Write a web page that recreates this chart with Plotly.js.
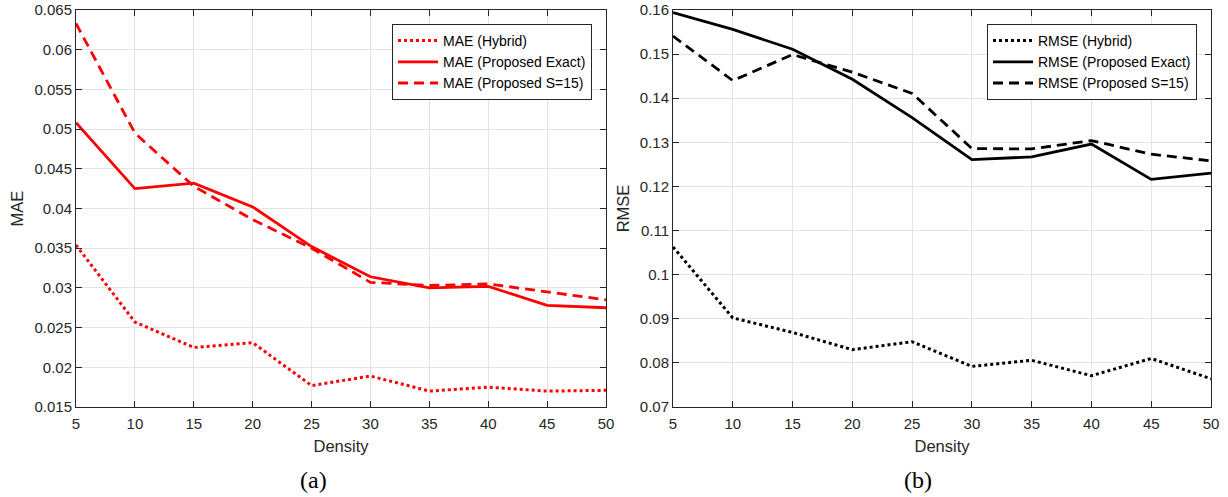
<!DOCTYPE html>
<html>
<head>
<meta charset="utf-8">
<script src="https://cdn.plot.ly/plotly-3.0.1.min.js"></script>
<style>html,body{margin:0;padding:0;background:#fff;}#chart{width:1228px;height:497px;}</style>
</head>
<body>
<div id="chart"></div>
<script>
// ---- data ----
const density = [5, 10, 15, 20, 25, 30, 35, 40, 45, 50];

const maeHybrid   = [0.0354, 0.0257, 0.0225, 0.0231, 0.0177, 0.0189, 0.0170, 0.0175, 0.0170, 0.0171];
const maeExact    = [0.0508, 0.0425, 0.0432, 0.0402, 0.0352, 0.0314, 0.0300, 0.0302, 0.0278, 0.0275];
const maeS15      = [0.0633, 0.0495, 0.0428, 0.0386, 0.0350, 0.0307, 0.0303, 0.0305, 0.0295, 0.0285];

const rmseHybrid  = [0.1063, 0.0902, 0.0869, 0.0830, 0.0848, 0.0792, 0.0806, 0.0771, 0.0810, 0.0764];
const rmseExact   = [0.1594, 0.1556, 0.1511, 0.1443, 0.1356, 0.1261, 0.1267, 0.1296, 0.1216, 0.1230];
const rmseS15     = [0.1541, 0.1440, 0.1499, 0.1459, 0.1411, 0.1286, 0.1285, 0.1304, 0.1273, 0.1258];

const xTicks      = [5, 10, 15, 20, 25, 30, 35, 40, 45, 50];
const maeTicks    = [0.015, 0.02, 0.025, 0.03, 0.035, 0.04, 0.045, 0.05, 0.055, 0.06, 0.065];
const maeTickText = ['0.015','0.02','0.025','0.03','0.035','0.04','0.045','0.05','0.055','0.06','0.065'];
const rmseTicks   = [0.07, 0.08, 0.09, 0.1, 0.11, 0.12, 0.13, 0.14, 0.15, 0.16];
const rmseTickText= ['0.07','0.08','0.09','0.1','0.11','0.12','0.13','0.14','0.15','0.16'];

const maeNames  = ['MAE (Hybrid)', 'MAE (Proposed Exact)', 'MAE (Proposed S=15)'];
const rmseNames = ['RMSE (Hybrid)', 'RMSE (Proposed Exact)', 'RMSE (Proposed S=15)'];
const captions  = ['(a)', '(b)'];

// ---- styles ----
const RED = '#ff0000', BLACK = '#000000';
const dotStyle  = {dash: 'dot', width: 3};
const solidStyle= {dash: 'solid', width: 2.8};
const dashStyle = {dash: '10px,6px', width: 2.8};

function tr(x, y, name, color, st, xa, ya, leg) {
  return {x: x, y: y, name: name, type: 'scatter', mode: 'lines',
    line: {color: color, width: st.width, dash: st.dash},
    xaxis: xa, yaxis: ya, legend: leg};
}

const data = [
  tr(density, maeHybrid, maeNames[0], RED, dotStyle, 'x', 'y', 'legend'),
  tr(density, maeExact,  maeNames[1], RED, solidStyle, 'x', 'y', 'legend'),
  tr(density, maeS15,    maeNames[2], RED, dashStyle, 'x', 'y', 'legend'),
  tr(density, rmseHybrid, rmseNames[0], BLACK, dotStyle, 'x2', 'y2', 'legend2'),
  tr(density, rmseExact,  rmseNames[1], BLACK, solidStyle, 'x2', 'y2', 'legend2'),
  tr(density, rmseS15,    rmseNames[2], BLACK, dashStyle, 'x2', 'y2', 'legend2')
];

const AX = '#262626';
const fontFam = '"Liberation Sans", Arial, Helvetica, sans-serif';
function xax(domain, anchor) {
  return {domain: domain, anchor: anchor, range: [5, 50], tickvals: xTicks,
    showline: true, mirror: 'ticks', linecolor: AX, linewidth: 1,
    ticks: 'inside', ticklen: 6, tickcolor: AX, tickwidth: 1, ticklabelstandoff: 3,
    showgrid: true, gridcolor: '#e3e3e3', gridwidth: 1, zeroline: false,
    tickfont: {size: 15, color: AX, family: fontFam},
    title: {text: 'Density', font: {size: 16.5, color: AX, family: fontFam}, standoff: 9},
    automargin: false, fixedrange: true};
}
function yax(domain, anchor, range, tv, tt, title) {
  return {domain: domain, anchor: anchor, range: range, tickvals: tv, ticktext: tt,
    showline: true, mirror: 'ticks', linecolor: AX, linewidth: 1,
    ticks: 'inside', ticklen: 6, tickcolor: AX, tickwidth: 1,
    showgrid: true, gridcolor: '#e3e3e3', gridwidth: 1, zeroline: false,
    tickfont: {size: 15, color: AX, family: fontFam},
    title: {text: title, font: {size: 16.5, color: AX, family: fontFam}, standoff: 6},
    automargin: false, fixedrange: true};
}

const W = 1228, H = 497;
const yDom = [(H - 407) / H, (H - 10) / H];

const legStyle = {bgcolor: '#ffffff', bordercolor: AX, borderwidth: 1,
  font: {size: 14, color: '#000', family: fontFam}, xanchor: 'right', yanchor: 'top',
  tracegroupgap: 0, itemwidth: 40};

const layout = {
  width: W, height: H,
  margin: {l: 0, r: 0, t: 0, b: 0},
  paper_bgcolor: '#fff', plot_bgcolor: '#fff',
  font: {family: fontFam, color: AX},
  showlegend: true,
  xaxis: xax([76 / W, 606 / W], 'y'),
  yaxis: yax(yDom, 'x', [0.015, 0.065], maeTicks, maeTickText, 'MAE'),
  xaxis2: xax([673 / W, 1211 / W], 'y2'),
  yaxis2: yax(yDom, 'x2', [0.07, 0.16], rmseTicks, rmseTickText, 'RMSE'),
  legend: Object.assign({x: 592 / W, y: 1 - 24 / H}, legStyle),
  legend2: Object.assign({x: 1197 / W, y: 1 - 24 / H}, legStyle),
  annotations: [
    {text: captions[0], xref: 'paper', yref: 'paper', x: 313 / W, y: 1 - 480 / H,
     xanchor: 'center', yanchor: 'middle', showarrow: false,
     font: {family: '"Liberation Serif", "Times New Roman", serif', size: 24, color: '#000'}},
    {text: captions[1], xref: 'paper', yref: 'paper', x: 918 / W, y: 1 - 480 / H,
     xanchor: 'center', yanchor: 'middle', showarrow: false,
     font: {family: '"Liberation Serif", "Times New Roman", serif', size: 24, color: '#000'}}
  ]
};

Plotly.newPlot('chart', data, layout, {displayModeBar: false, staticPlot: true});
</script>
</body>
</html>
